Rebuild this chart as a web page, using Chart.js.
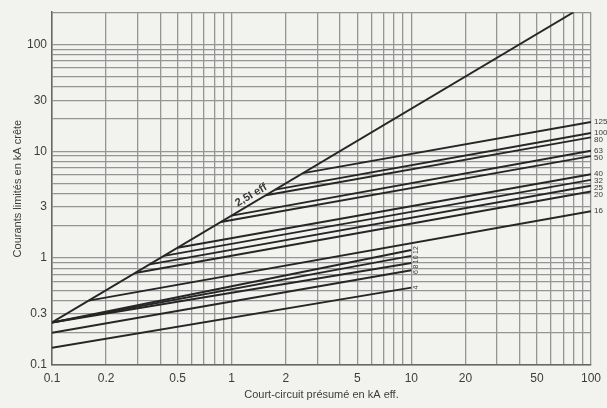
<!DOCTYPE html>
<html>
<head>
<meta charset="utf-8">
<script src="https://cdn.jsdelivr.net/npm/chart.js@4.4.1/dist/chart.umd.min.js"></script>
<style>
  html, body { margin: 0; padding: 0; background: #f2f2ef; }
  #wrap { width: 607px; height: 408px; }
</style>
</head>
<body>
<div id="wrap"><canvas id="fuseChart" width="607" height="408"></canvas></div>
<script>
// axis labels
const xTickLabels = [0.1, 0.2, 0.5, 1, 2, 5, 10, 20, 50, 100];
const yTickLabels = [0.1, 0.3, 1, 3, 10, 30, 100];

// 2.5 x I eff line (peak = ratio * prospective current)
const peakRatio = 2.5;
const diagonalX = [0.1, 80];

// fuses ending at 100 kA (curve leaves the 2.5 I line at upperStartX)
const upperRatings = ["125", "100", "80", "63", "50", "40", "32", "25", "20", "16"];
const upperStartX = [2.5, 1.75, 1.55, 1.0, 0.87, 0.5, 0.42, 0.35, 0.29, 0.16];
const upperEndPeak = [18.8, 14.8, 13.5, 10.1, 9.0, 6.1, 5.4, 4.75, 4.2, 2.75];

// small fuses, drawn from 0.1 kA to 10 kA
const lowerRatings = ["12", "10", "8", "6", "4"];
const lowerStartPeak = [0.25, 0.25, 0.25, 0.2, 0.145];
const lowerEndPeak = [1.19, 1.05, 0.9, 0.77, 0.53];

const lineColor = "#262626";
const gridColor = "#959595";

function logGrid(min, max) {
  let vals = [];
  for (let e = -1; e <= 2; e++) {
    for (let m = 1; m <= 9; m++) {
      let v = Number((m * Math.pow(10, e)).toPrecision(3));
      if (v >= min - 1e-9 && v <= max + 1e-9) vals.push(v);
    }
  }
  return vals;
}

let datasets = [];

datasets.push({
  data: diagonalX.map((x) => ({ x: x, y: x * peakRatio })),
});

upperRatings.forEach((r, i) => {
  datasets.push({
    data: [
      { x: upperStartX[i], y: upperStartX[i] * peakRatio },
      { x: 100, y: upperEndPeak[i] },
    ],
  });
});

lowerRatings.forEach((r, i) => {
  datasets.push({
    data: [
      { x: 0.1, y: lowerStartPeak[i] },
      { x: 10, y: lowerEndPeak[i] },
    ],
  });
});

datasets.forEach((d) => {
  d.borderColor = lineColor;
  d.borderWidth = 1.9;
  d.pointRadius = 0;
  d.fill = false;
  d.tension = 0;
});

// rating labels + "2,5I eff" text
const labelPlugin = {
  id: "fuseLabels",
  afterDatasetsDraw(chart) {
    const ctx = chart.ctx;
    const xs = chart.scales.x;
    const ys = chart.scales.y;
    ctx.save();
    ctx.fillStyle = "#3a3a3a";
    ctx.textBaseline = "middle";
    ctx.textAlign = "left";
    ctx.font = "8px 'Liberation Sans Narrow', 'Liberation Sans', sans-serif";

    let xr = xs.getPixelForValue(100) + 3;
    let lastY = -100;
    upperRatings.forEach((r, i) => {
      let y = ys.getPixelForValue(upperEndPeak[i]);
      if (y - lastY < 7) y = lastY + 7;
      ctx.fillText(r, xr, y);
      lastY = y;
    });

    // vertical labels for the small fuses, stacked just right of 10 kA
    ctx.font = "7px 'Liberation Sans Narrow', 'Liberation Sans', sans-serif";
    let xl = xs.getPixelForValue(10) + 5;
    lastY = -100;
    lowerRatings.forEach((r, i) => {
      let y = ys.getPixelForValue(lowerEndPeak[i]);
      let h = ctx.measureText(r).width;
      if (y - h / 2 - lastY < 1.5) y = lastY + 1.5 + h / 2;
      ctx.save();
      ctx.translate(xl, y);
      ctx.rotate(-Math.PI / 2);
      ctx.textAlign = "center";
      ctx.fillText(r, 0, 0);
      ctx.restore();
      lastY = y + h / 2;
    });

    // text along the diagonal
    let p1x = xs.getPixelForValue(diagonalX[0]);
    let p1y = ys.getPixelForValue(diagonalX[0] * peakRatio);
    let p2x = xs.getPixelForValue(diagonalX[1]);
    let p2y = ys.getPixelForValue(diagonalX[1] * peakRatio);
    let ang = Math.atan2(p2y - p1y, p2x - p1x);
    let ax = xs.getPixelForValue(1.35);
    let ay = ys.getPixelForValue(1.35 * peakRatio);
    ctx.translate(ax, ay);
    ctx.rotate(ang);
    ctx.textAlign = "center";
    ctx.textBaseline = "bottom";
    ctx.font = "bold 11px 'Liberation Sans Narrow', 'Liberation Sans', sans-serif";
    ctx.fillText("2,5I eff", 0, -2);
    ctx.restore();
  },
};

new Chart(document.getElementById("fuseChart"), {
  type: "line",
  data: { datasets: datasets },
  options: {
    responsive: false,
    animation: false,
    layout: { padding: { top: 10, right: 12, left: 0, bottom: 0 } },
    plugins: {
      legend: { display: false },
      tooltip: { enabled: false },
    },
    scales: {
      x: {
        type: "logarithmic",
        min: 0.1,
        max: 100,
        afterBuildTicks: (scale) => {
          scale.ticks = logGrid(0.1, 100).map((v) => ({ value: v }));
        },
        afterFit: (scale) => {
          scale.height = 43;
        },
        grid: { color: gridColor, lineWidth: 1.3, drawTicks: false },
        border: { display: true, color: "#666", width: 1.5 },
        ticks: {
          autoSkip: false,
          maxRotation: 0,
          padding: 6,
          color: "#3c3c3c",
          font: { family: "'Liberation Sans', Arial, sans-serif", size: 12 },
          callback: (value) => (xTickLabels.includes(value) ? String(value) : ""),
        },
        title: {
          display: true,
          text: "Court-circuit présumé en kA eff.",
          color: "#3c3c3c",
          padding: { top: 0, bottom: 6 },
          font: { family: "'Liberation Sans Narrow', 'Liberation Sans', sans-serif", size: 11 },
        },
      },
      y: {
        type: "logarithmic",
        min: 0.1,
        max: 200,
        afterBuildTicks: (scale) => {
          scale.ticks = logGrid(0.1, 200).map((v) => ({ value: v }));
        },
        afterFit: (scale) => {
          scale.width = 52;
        },
        grid: { color: gridColor, lineWidth: 1.3, drawTicks: false },
        border: { display: true, color: "#666", width: 1.5 },
        ticks: {
          autoSkip: false,
          padding: 5,
          color: "#3c3c3c",
          font: { family: "'Liberation Sans', Arial, sans-serif", size: 12 },
          callback: (value) => (yTickLabels.includes(value) ? String(value) : ""),
        },
        title: {
          display: true,
          text: "Courants limités en kA crête",
          color: "#3c3c3c",
          padding: { top: 11, bottom: 0 },
          font: { family: "'Liberation Sans Narrow', 'Liberation Sans', sans-serif", size: 11 },
        },
      },
    },
  },
  plugins: [labelPlugin],
});
</script>
</body>
</html>
